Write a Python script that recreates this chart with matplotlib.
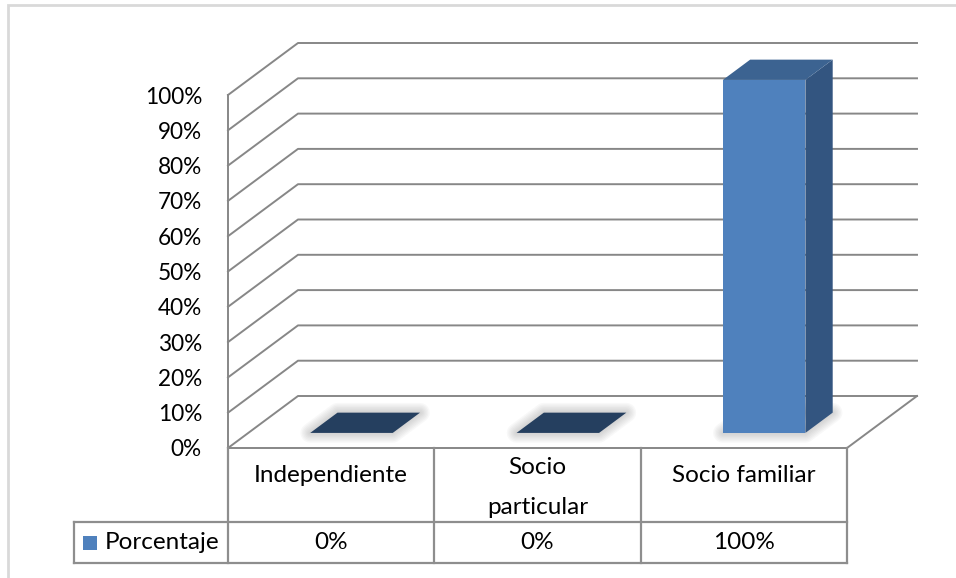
import matplotlib
matplotlib.use("Agg")
import matplotlib.pyplot as plt
from matplotlib.patches import Polygon

plt.rcParams.update({
    "font.family": ["Lato", "DejaVu Sans"],
    "font.size": 17,
})

categories = ["Independiente", "Socio\nparticular", "Socio familiar"]
values = [0, 0, 100]
value_labels = ["0%", "0%", "100%"]
series_name = "Porcentaje"
y_ticks = list(range(0, 101, 10))

FRONT, TOP, SIDE, FLAT = "#4f81bd", "#3c6391", "#335580", "#253f5f"
GRID, TABLE, FRAME = "#878787", "#8e8e8e", "#d9d9d9"

# oblique projection of the 3-D plot box into figure pixels
X0, Y0 = 228, 448          # front-left corner of the floor
CW = (847 - 228) / 3       # width of one category
PY = 3.53                  # pixels per percent
DX, DY = 70, 52            # depth offset of the back wall
D0, D1 = 0.29, 0.68        # depth band occupied by the bars
HALF = 0.2                 # half bar width, in categories


def proj(c, v, d):
    return X0 + c * CW + d * DX, Y0 - v * PY - d * DY


fig = plt.figure(figsize=(9.56, 5.78), dpi=100)
ax = fig.add_axes([0, 0, 1, 1])
ax.set_xlim(0, 956)
ax.set_ylim(578, 0)
ax.axis("off")

# outer frame
ax.plot([8, 8, 960], [590, 5, 5], color=FRAME, lw=2, solid_joinstyle="miter")

# walls and gridlines
n = len(categories)
for t in y_ticks:
    xs, ys = zip(proj(0, t, 0), proj(0, t, 1), proj(n, t, 1))
    ax.plot(xs, ys, color=GRID, lw=1.4, zorder=1)
    fx, fy = proj(0, t, 0)
    ax.text(fx - 26, fy + 2, f"{t}%", ha="right", va="center", fontsize=16.3)
xs, ys = zip(proj(0, 0, 0), proj(0, 100, 0))
ax.plot(xs, ys, color=GRID, lw=1.4, zorder=1)
xs, ys = zip(proj(n, 0, 1), proj(n, 0, 0), proj(0, 0, 0))
ax.plot(xs, ys, color=GRID, lw=1.4, zorder=1)


def shadow(pts):
    for lw in range(14, 0, -2):
        ax.add_patch(Polygon(pts, closed=True, fc="none", ec="#7f7f7f",
                             lw=lw, alpha=0.05, joinstyle="round", zorder=2))


# bars
for i, v in enumerate(values):
    c0, c1 = i + 0.5 - HALF, i + 0.5 + HALF
    base = [proj(c0, 0, D0), proj(c1, 0, D0), proj(c1, 0, D1), proj(c0, 0, D1)]
    shadow(base)
    top = [proj(c0, v, D0), proj(c1, v, D0), proj(c1, v, D1), proj(c0, v, D1)]
    if v == 0:
        ax.add_patch(Polygon(top, closed=True, fc=FLAT, ec="none", zorder=3))
        continue
    front = [proj(c0, 0, D0), proj(c1, 0, D0), proj(c1, v, D0), proj(c0, v, D0)]
    side = [proj(c1, 0, D0), proj(c1, 0, D1), proj(c1, v, D1), proj(c1, v, D0)]
    ax.add_patch(Polygon(side, closed=True, fc=SIDE, ec="none", zorder=3))
    ax.add_patch(Polygon(top, closed=True, fc=TOP, ec="none", zorder=3))
    ax.add_patch(Polygon(front, closed=True, fc=FRONT, ec="none", zorder=4))

# data table
row1, row2, row3 = Y0, 522, 563
xl = 74
x_edges = [proj(c, 0, 0)[0] for c in range(n + 1)]
tk = dict(color=TABLE, lw=1.6, zorder=2)
ax.plot([xl, x_edges[-1]], [row2, row2], **tk)
ax.plot([xl, x_edges[-1]], [row3, row3], **tk)
ax.plot([xl, xl], [row2, row3], **tk)
for xe in x_edges:
    ax.plot([xe, xe], [row1, row3], **tk)
for i in range(n):
    xc = (x_edges[i] + x_edges[i + 1]) / 2
    lines = categories[i].split("\n")
    first = row1 + 28 if len(lines) == 1 else row1 + 19
    for k, line in enumerate(lines):
        ax.text(xc, first + 41 * k, line, ha="center", va="center",
                fontsize=17.5)
    ax.text(xc, (row2 + row3) / 2, value_labels[i], ha="center",
            va="center", fontsize=17.5)
ax.add_patch(Polygon([(83, 536), (97, 536), (97, 550), (83, 550)],
                     closed=True, fc=FRONT, ec="none"))
ax.text(105, (row2 + row3) / 2, series_name, ha="left", va="center",
        fontsize=17.5)

fig.savefig("out.png", dpi=100)
